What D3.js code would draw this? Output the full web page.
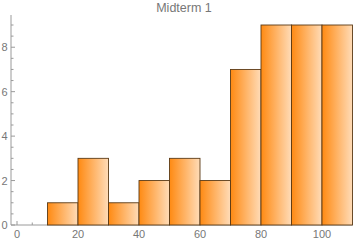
<!DOCTYPE html>
<html>
<head>
<meta charset="utf-8">
<script src="https://cdn.jsdelivr.net/npm/d3@7"></script>
<style>
  body { margin: 0; background: #fff; }
  text { font-family: "Liberation Sans", Arial, sans-serif; }
</style>
</head>
<body>
<div id="container"></div>
<script>
    const binStarts = [10, 20, 30, 40, 50, 60, 70, 80, 90, 100];
    const binWidth = 10;
    const counts = [1, 3, 1, 2, 3, 2, 7, 9, 9, 9];
    const xTicks = [0, 20, 40, 60, 80, 100];
    const yTicks = [0, 2, 4, 6, 8];

    const W = 360, H = 240;
    const svg = d3.select('#container').append('svg')
      .attr('width', W)
      .attr('height', H);

    const x = d3.scaleLinear().domain([0, 110]).range([17, 352.5]);
    const y = d3.scaleLinear().domain([0, 9]).range([225, 25]);
    const x0 = x.invert(11);
    const yTop = y.invert(15);

    const grad = svg.append('defs').append('linearGradient')
      .attr('id', 'barGrad')
      .attr('x1', '0%').attr('x2', '100%').attr('y1', '0%').attr('y2', '0%');
    grad.append('stop').attr('offset', '0%').attr('stop-color', '#ff8a12');
    grad.append('stop').attr('offset', '100%').attr('stop-color', '#ffdcb8');

    const axisColor = '#9a9a9a';

    // minor ticks
    const xMinor = d3.range(0, 111, 5);
    const yMinor = d3.range(0, 9.01, 0.5);

    svg.append('g')
      .selectAll('line')
      .data(xMinor)
      .join('line')
      .attr('x1', d => x(d)).attr('x2', d => x(d))
      .attr('y1', y(0)).attr('y2', d => y(0) - (d % 20 === 0 ? 4 : 2.5))
      .attr('stroke', axisColor);

    svg.append('g')
      .selectAll('line')
      .data(yMinor)
      .join('line')
      .attr('y1', d => y(d)).attr('y2', d => y(d))
      .attr('x1', x(x0)).attr('x2', d => x(x0) + (d % 2 === 0 ? 4 : 2.5))
      .attr('stroke', axisColor);

    // axis lines
    svg.append('line')
      .attr('x1', x(x0)).attr('x2', x(110))
      .attr('y1', y(0)).attr('y2', y(0))
      .attr('stroke', axisColor);
    svg.append('line')
      .attr('x1', x(x0)).attr('x2', x(x0))
      .attr('y1', y(0)).attr('y2', y(yTop))
      .attr('stroke', axisColor);

    // bars
    svg.append('g')
      .selectAll('rect')
      .data(binStarts.map((s, i) => ({ s, c: counts[i] })))
      .join('rect')
      .attr('x', d => x(d.s))
      .attr('width', d => x(d.s + binWidth) - x(d.s))
      .attr('y', d => y(d.c))
      .attr('height', d => y(0) - y(d.c))
      .attr('fill', 'url(#barGrad)')
      .attr('stroke', '#5b3a16')
      .attr('stroke-width', 0.9);

    // tick labels
    svg.append('g')
      .selectAll('text')
      .data(xTicks)
      .join('text')
      .attr('x', d => x(d))
      .attr('y', 238)
      .attr('text-anchor', 'middle')
      .attr('font-size', 11)
      .attr('fill', '#777')
      .text(d => d);

    svg.append('g')
      .selectAll('text')
      .data(yTicks)
      .join('text')
      .attr('x', 7.5)
      .attr('y', d => y(d) + 4)
      .attr('text-anchor', 'end')
      .attr('font-size', 11)
      .attr('fill', '#777')
      .text(d => d);

    svg.append('text')
      .attr('x', 184)
      .attr('y', 12)
      .attr('text-anchor', 'middle')
      .attr('font-size', 12.5)
      .attr('fill', '#777')
      .text('Midterm 1');
</script>
</body>
</html>
